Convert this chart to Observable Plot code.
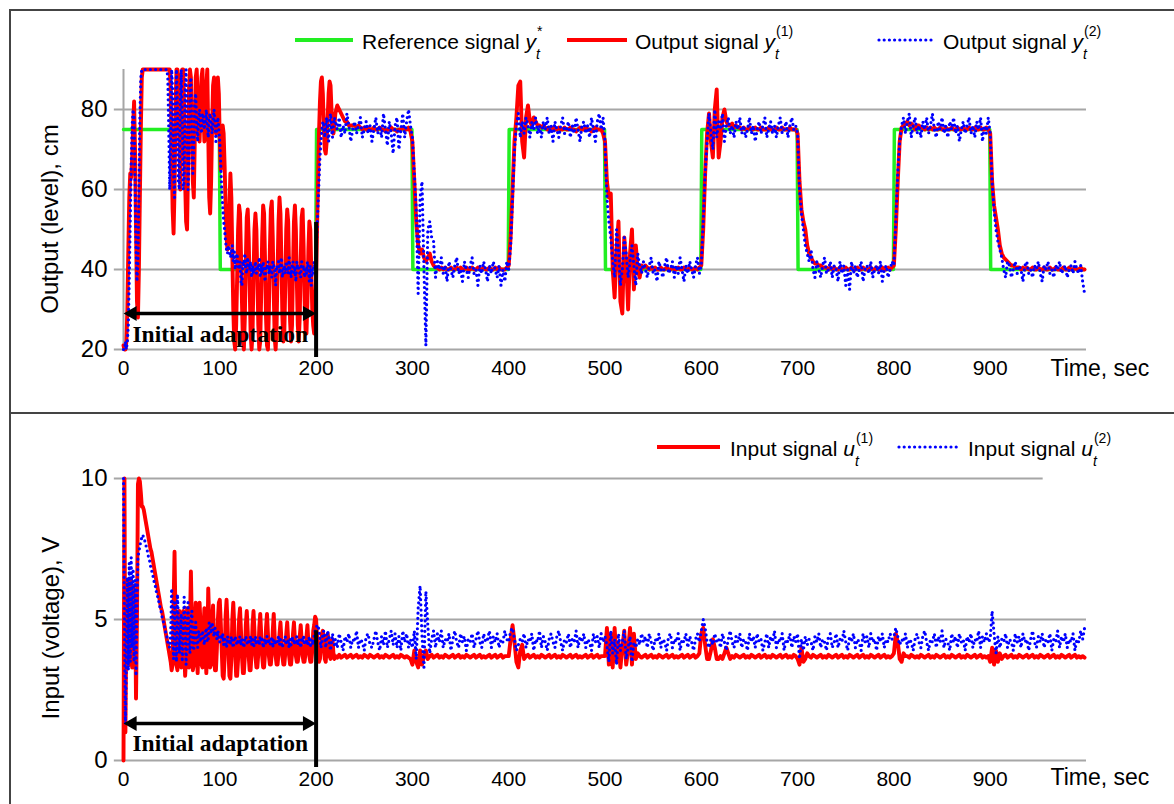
<!DOCTYPE html>
<html>
<head>
<meta charset="utf-8">
<script src="https://cdn.jsdelivr.net/npm/d3@7"></script>
<script src="https://cdn.jsdelivr.net/npm/@observablehq/plot@0.6"></script>
<style>
  body { margin: 0; background: #fff; }
  #fig { position: relative; width: 1174px; height: 804px; background: #fff; overflow: hidden;
         font-family: "Liberation Sans", Arial, sans-serif; color: #000; }
  .abs { position: absolute; }
  .bar { position: absolute; background: #444; }
  .lt { position: absolute; font-size: 21px; line-height: 24px; white-space: nowrap; }
  .m { white-space: nowrap; }
  .ss { position: relative; display: inline-block; width: 20px; height: 1px; }
  .sp { position: absolute; left: 1px; top: -25px; font-size: 14px; line-height: 16px; }
  .sb { position: absolute; left: 0px; top: -2px; font-size: 14px; line-height: 16px; font-style: italic; }
  .yt { position: absolute; font-size: 24px; white-space: nowrap; transform: translate(-50%, -50%) rotate(-90deg); }
</style>
</head>
<body>
<div id="fig">
  <div class="bar" style="left:9px;top:9px;width:1165px;height:2px"></div>
  <div class="bar" style="left:9px;top:9px;width:2px;height:795px"></div>
  <div class="bar" style="left:9px;top:412px;width:1165px;height:2px"></div>
  <div id="topPanel" class="abs" style="left:0;top:0"></div>
  <div id="botPanel" class="abs" style="left:0;top:402px"></div>

  <!-- top legend -->
  <div class="abs" style="left:295px;top:38px;width:58px;height:4px;background:#22ee22"></div>
  <div class="lt" style="left:362px;top:30px">Reference signal <span class="m"><i>y</i><span class="ss"><span class="sp">*</span><span class="sb">t</span></span></span></div>
  <div class="abs" style="left:567px;top:38px;width:60px;height:4px;background:#ff0000"></div>
  <div class="lt" style="left:635px;top:30px">Output signal <span class="m"><i>y</i><span class="ss"><span class="sp">(1)</span><span class="sb">t</span></span></span></div>
  <svg class="abs" style="left:876px;top:36px" width="62" height="8"><line x1="3" x2="59" y1="4" y2="4" stroke="#0000ff" stroke-width="3.2" stroke-dasharray="0 5.2" stroke-linecap="round"/></svg>
  <div class="lt" style="left:943px;top:30px">Output signal <span class="m"><i>y</i><span class="ss"><span class="sp">(2)</span><span class="sb">t</span></span></span></div>

  <!-- bottom legend -->
  <div class="abs" style="left:657px;top:445px;width:63px;height:4px;background:#ff0000"></div>
  <div class="lt" style="left:730px;top:437px">Input signal <span class="m"><i>u</i><span class="ss"><span class="sp">(1)</span><span class="sb">t</span></span></span></div>
  <svg class="abs" style="left:896px;top:443px" width="66" height="8"><line x1="3" x2="63" y1="4" y2="4" stroke="#0000ff" stroke-width="3.2" stroke-dasharray="0 5.2" stroke-linecap="round"/></svg>
  <div class="lt" style="left:968px;top:437px">Input signal <span class="m"><i>u</i><span class="ss"><span class="sp">(2)</span><span class="sb">t</span></span></span></div>

  <div class="yt" style="left:50px;top:219px">Output (level), cm</div>
  <div class="yt" style="left:51px;top:628px">Input (voltage), V</div>
</div>
<script>
// ---------- tick values ----------
const xTicks = [0, 100, 200, 300, 400, 500, 600, 700, 800, 900];
const yTicksTop = [20, 40, 60, 80];
const yTicksBot = [0, 5, 10];

// ---------- reference signal y* ----------
const refT = [0, 99.5, 100.5, 199.5, 200.5, 299.5, 300.5, 399.5, 400.5, 499.5, 500.5, 599.5, 600.5, 699.5, 700.5, 799.5, 800.5, 899.5, 900.5, 998];
const refV = [75, 75, 40, 40, 75, 75, 40, 40, 75, 75, 40, 40, 75, 75, 40, 40, 75, 75, 40, 40];

// ---------- output signal y(1), t = 0..219 step 1 ----------
const y1_000 = [
21,20,20,22,30,45,58,64,63,68,
76,82,70,50,32,28,40,58,75,88,
90,90,90,90,90,90,90,90,90,90,
90,90,90,90,90,90,90,90,90,90,
90,90,90,90,90,90,90,90,90,85,
70,55,49,60,80,90,90,88,72,60,
75,90,90,80,62,52,50,65,85,90,
88,75,62,58,72,88,90,84,74,72,
80,88,90,80,72,76,86,90,74,58,
54,62,76,86,88,80,74,82,88,84,
72,65,70,76,74,66,56,48,45,47,
56,64,58,44,30,22,20,26,38,50,
56,54,44,32,22,20,28,42,53,55,
48,36,24,20,24,38,50,54,50,38,
26,20,22,34,48,56,54,42,28,21,
20,30,45,55,57,48,34,23,20,26,
40,52,58,54,42,28,22,24,36,50,
55,52,40,27,22,26,40,52,56,50,
37,26,22,28,42,53,55,46,33,25,
24,32,45,52,50,40,30,26,24,30,
38,50,62,74,82,87,88,84,76,70,
69,72,78,84,87,86,80,75,74,76];
// step 2 segments
const y1_220 = [
79,81,80,79,78,77,77,76,76,76,
76,75.5,76,75.5,75,75.5,75,75.5,75,75,
75.5,75,75,75.5,75,75,74.5,75,75,75.5,
75,75,74.5,75,75,75.5,75,75,75.5,74.5];
const y1_300 = [
72,62,52,46,44,45,43,42,43,44,
42,41,40.5,40.5,40,40.5,40,40.5,40,40,
40.5,40,40,40.5,40,40.5,40,40,40.5,40,
40,40.5,40,40,40.5,40,40,40.5,40,40,
40.5,40,40,40.5,40,40.5,40,40,40,40.5];
const y1_400 = [
41,48,60,72,78,86,87,72,68,78,
81,77,76,78,77,76,76,75.5,76,75.5,
75,75.5,75,75.5,75,75,75.5,75,75,75.5,
75,75,75.5,75,75,74.5,75,75.5,75,75,
75.5,75,75,74.5,75,75.5,75,75,75,74];
const y1_500 = [
72,62,58,59,40,33,45,52,32,29,
48,42,30,44,50,35,46,40,38,41,
40.5,41,40.5,40,40.5,40,40.5,40,40,40.5,
40,40,40.5,40,40,40.5,40,40,40.5,40,
40,40.5,40,40,40.5,40,40,40.5,40,40.5];
const y1_600 = [
41,50,64,74,79,72,68,80,85,68,
72,78,80,77,76,76,76.5,75.5,76,75.5,
75.5,75,75.5,75,75,75.5,75,75,75.5,75,
75,75.5,75,75,75,75.5,75,75,75,75.5,
75,75,75.5,75,75,75,75.5,75,75,75];
const y1_700 = [
74,62,55,52,50,46,44,43,42,41.5,
41.5,41,41,40.5,40.5,40.5,40,40.5,40,40.5,
40,40,40.5,40,40,40.5,40,40,40.5,40,
40,40.5,40,40,40.5,40,40,40,40.5,40,
40,40.5,40,40,40.5,40,40,40.5,40,40.5];
const y1_800 = [
41,50,62,72,75.5,76,76.5,77,76,76.5,
76,75,76,76,75.5,75.5,75,75.5,75,75.5,
75,75.5,75,75,75.5,75,75,75.5,75,75,
75.5,75,75,75.5,75,75,75.5,75,75,75.5,
75,75,75.5,75,75,75.5,75,75,75.5,75];
const y1_900 = [
74,62,56,53,50,46,44,43,42.5,42,
41.5,41,41,40.5,40.5,40.5,40,40.5,40,40.5,
40,40,40.5,40,40,40.5,40,40,40.5,40,
40,40.5,40,40,40.5,40,40,40,40.5,40,
40,40.5,40,40,40.5,40,40,40.5,40,40];

// ---------- output signal y(2), t = 0..219 step 1 ----------
const y2_000 = [
20,20,22,20,22,26,38,52,66,76,
80,78,62,46,37,42,60,78,88,90,
90,90,90,90,90,90,90,90,90,90,
90,90,90,90,90,90,90,90,90,90,
90,90,90,90,90,90,88,75,60,72,
90,85,64,58,78,90,80,62,60,82,
90,78,60,62,84,90,76,60,66,86,
88,74,64,70,82,84,76,72,78,80,
76,74,79,78,75,77,80,76,73,78,
79,76,74,77,80,77,72,76,78,75,
72,66,60,56,52,50,47,45,44,46,
45,43,44,46,42,45,40,43,44,41,
40,42,37,36,42,41,44,40,39,43,
41,40,42,38,41,39,40,42,39,41,
40,43,38,41,39,42,40,37,41,40,
42,39,41,40,38,42,41,40,36,41,
40,42,39,41,43,38,40,41,39,42,
41,39,43,40,38,41,42,39,40,37,
42,40,41,39,38,42,40,41,38,40,
39,42,40,37,41,36,40,39,42,40,
44,50,56,62,68,72,75,77,76,73,
76,78,74,72,77,79,75,73,76,78];
const y2_220 = [
77,75,78,73,76,74,79,76,72,75,
77,74,76,78,73,75,77,74,76,72,
75,78,74,76,73,79,75,71,77,74,
69,76,78,70,75,79,73,77,80,76];
const y2_300 = [
73,64,55,34,58,62,40,21,50,52,
48,47,38,42,40,43,39,41,37,42,
40,38,41,43,39,40,37,42,40,38,
41,43,39,40,36,41,39,42,40,37,
41,39,42,40,38,41,36,40,37,42];
const y2_400 = [
40,46,58,70,76,79,73,77,74,78,
76,73,77,75,78,74,76,73,77,75,
78,74,76,72,77,75,73,76,78,74,
75,77,73,76,74,78,75,72,76,77,
74,76,73,78,75,72,77,79,75,78];
const y2_500 = [
72,58,52,48,42,38,50,45,36,40,
48,44,38,42,46,41,36,44,41,39,
42,40,38,41,43,39,40,37,42,40,
38,41,43,39,40,42,38,41,39,43,
40,37,41,39,42,40,38,41,43,39];
const y2_600 = [
41,52,64,72,79,74,70,80,73,77,
75,79,72,76,78,74,76,73,77,75,
78,74,76,73,75,78,74,76,72,75,
77,74,76,78,73,75,77,74,76,73,
76,78,74,75,77,73,76,78,75,76];
const y2_700 = [
74,60,54,50,46,44,42,45,40,38,
42,40,38,41,43,39,40,42,38,41,
40,37,42,39,41,36,40,35,42,39,
41,38,40,42,37,40,41,39,42,38,
40,41,39,42,37,40,41,38,40,42];
const y2_800 = [
41,52,64,72,76,78,74,77,79,73,
76,78,74,76,73,77,75,78,74,76,
79,75,73,77,75,78,74,76,73,77,
75,78,74,76,72,75,77,74,76,78,
74,76,73,77,75,78,72,76,74,78];
const y2_900 = [
74,62,55,50,47,45,43,40,38,42,
41,38,40,42,39,41,40,37,41,42,
39,40,38,41,40,42,39,37,41,40,
42,39,40,38,41,40,42,39,40,41,
38,40,41,39,42,40,39,41,37,34];

// ---------- input signal u(1), t = 0..219 step 1 ----------
const u1_000 = [
0,10,1,5,6.4,3.5,6.3,3.4,6.4,3.3,
6.2,3.3,5.8,2.2,5.0,9.8,10,9.9,9.5,9.0,
9.0,8.9,8.7,8.5,8.3,8.1,7.9,7.7,7.5,7.4,
7.2,7.0,6.8,6.6,6.4,6.2,6.0,5.8,5.6,5.4,
5.3,5.1,4.9,4.7,4.5,4.3,4.1,3.9,3.7,3.5,
3.2,3.4,5.5,7.4,5.0,3.4,3.2,4.5,5.3,4.2,
3.3,3.6,5.3,4.0,3.0,3.6,5.4,4.5,3.3,4.8,
6.7,4.8,3.2,3.4,5.0,5.6,4.0,3.1,4.2,5.6,
4.8,3.4,3.3,4.6,5.4,4.1,3.1,4.0,6.1,5.0,
3.3,3.4,4.8,5.5,4.2,3.2,3.2,4.0,5.0,5.6,
5.7,4.9,3.9,3.0,2.9,3.6,5.1,5.7,4.9,3.9,
3.0,2.9,3.6,5.0,5.6,4.8,3.8,3.0,3.0,3.6,
5.0,5.4,4.6,3.7,3.1,3.1,3.7,4.8,5.3,4.6,
3.7,3.2,3.2,3.8,4.8,5.3,4.6,3.7,3.3,3.3,
3.8,4.7,5.2,4.5,3.7,3.3,3.3,3.8,4.7,5.2,
4.5,3.7,3.4,3.4,3.8,4.6,5.2,4.4,3.7,3.4,
3.4,3.8,4.5,4.9,4.3,3.7,3.4,3.4,3.8,4.5,
4.9,4.3,3.7,3.4,3.4,3.8,4.5,4.9,4.3,3.7,
3.5,3.5,3.8,4.4,4.8,4.3,3.7,3.5,3.5,3.8,
4.4,4.8,4.2,3.7,3.5,3.5,3.9,4.6,4.8,5.1,
5.0,4.4,3.8,3.5,3.6,4.0,4.5,4.6,4.2,3.6,
3.5,4.0,4.5,4.3,3.7,3.6,4.2,4.3,3.8,3.6];
const u1_220 = [
3.7,3.65,3.75,3.65,3.7,3.75,3.65,3.7,3.75,3.65,
3.7,3.75,3.65,3.7,3.65,3.75,3.7,3.65,3.75,3.7,
3.65,3.7,3.75,3.65,3.7,3.65,3.75,3.7,3.65,3.7,
3.75,3.65,3.7,3.65,3.75,3.7,3.65,3.7,3.65,3.6];
const u1_300 = [
3.4,3.9,3.5,3.3,3.9,3.4,3.7,3.9,3.6,3.7,
3.75,3.65,3.7,3.75,3.65,3.7,3.65,3.75,3.7,3.65,
3.7,3.75,3.65,3.7,3.75,3.65,3.7,3.65,3.75,3.7,
3.65,3.7,3.75,3.65,3.7,3.75,3.65,3.7,3.65,3.7,
3.75,3.65,3.7,3.75,3.65,3.7,3.75,3.65,3.7,3.7];
const u1_400 = [
3.7,4.3,4.8,4.2,3.5,3.3,3.9,4.1,3.6,3.7,
3.75,3.65,3.7,3.75,3.65,3.7,3.65,3.75,3.7,3.65,
3.7,3.75,3.65,3.7,3.75,3.65,3.7,3.65,3.75,3.7,
3.65,3.7,3.75,3.65,3.7,3.75,3.65,3.7,3.65,3.7,
3.75,3.65,3.7,3.75,3.65,3.7,3.75,3.65,3.7,3.7];
const u1_500 = [
3.7,4.7,3.4,4.5,3.3,4.7,3.5,4.2,3.3,4.0,
4.6,3.4,3.9,4.7,3.4,4.5,3.6,3.8,3.7,3.65,
3.7,3.75,3.65,3.7,3.75,3.65,3.7,3.65,3.75,3.7,
3.65,3.7,3.75,3.65,3.7,3.75,3.65,3.7,3.65,3.7,
3.75,3.65,3.7,3.75,3.65,3.7,3.75,3.65,3.7,3.8];
const u1_600 = [
4.5,4.7,4.1,3.6,3.6,3.9,4.3,4.0,3.6,3.6,
3.7,3.6,3.8,4.0,3.8,3.6,3.7,3.65,3.75,3.7,
3.65,3.7,3.75,3.65,3.7,3.65,3.75,3.7,3.65,3.7,
3.75,3.65,3.7,3.75,3.65,3.7,3.65,3.75,3.7,3.65,
3.7,3.75,3.65,3.7,3.75,3.65,3.7,3.65,3.75,3.7];
const u1_700 = [
3.6,3.4,4.0,3.5,3.6,3.8,3.7,3.65,3.75,3.7,
3.65,3.7,3.75,3.65,3.7,3.65,3.75,3.7,3.65,3.7,
3.75,3.65,3.7,3.75,3.65,3.7,3.65,3.75,3.7,3.65,
3.7,3.75,3.65,3.7,3.75,3.65,3.7,3.65,3.75,3.7,
3.65,3.7,3.75,3.65,3.7,3.75,3.65,3.7,3.65,3.7];
const u1_800 = [
3.8,4.5,4.2,3.6,3.5,3.8,3.7,3.7,3.65,3.75,
3.7,3.65,3.7,3.65,3.75,3.7,3.65,3.7,3.75,3.65,
3.7,3.65,3.75,3.7,3.65,3.7,3.75,3.65,3.7,3.65,
3.75,3.7,3.65,3.7,3.75,3.65,3.7,3.65,3.75,3.7,
3.65,3.7,3.75,3.65,3.7,3.75,3.65,3.7,3.65,3.7];
const u1_900 = [
3.5,4.0,3.4,3.9,3.5,3.8,3.6,3.7,3.75,3.65,
3.7,3.75,3.65,3.7,3.65,3.75,3.7,3.65,3.7,3.75,
3.65,3.7,3.75,3.65,3.7,3.65,3.75,3.7,3.65,3.7,
3.75,3.65,3.7,3.75,3.65,3.7,3.65,3.75,3.7,3.65,
3.7,3.75,3.65,3.7,3.75,3.65,3.7,3.65,3.7,3.65];

// ---------- input signal u(2), t = 0..219 step 1 ----------
const u2_000 = [
10,5,1.3,3.5,6.5,3.2,7.0,3.5,7.2,4.0,
6.8,3.5,6.4,3.0,5.5,7.2,7.4,7.6,7.8,7.9,
8.0,7.9,7.8,7.7,7.5,7.4,7.2,7.1,6.9,6.8,
6.6,6.5,6.3,6.2,6.0,5.9,5.7,5.6,5.4,5.3,
5.1,5.0,4.8,4.7,4.5,4.4,4.2,4.1,4.0,4.5,
6.1,4.6,3.6,5.6,4.2,3.5,5.9,5.0,3.8,4.5,
5.2,3.5,4.3,5.8,4.8,3.4,4.6,5.6,4.2,3.8,
5.0,5.3,4.0,3.9,4.8,4.9,4.1,4.0,4.6,4.4,
4.2,4.4,4.6,4.3,4.1,4.5,4.7,4.2,4.3,4.9,
4.8,4.5,4.9,4.6,4.4,4.7,4.5,4.3,4.6,4.4,
4.2,4.4,4.3,4.5,4.1,4.3,4.2,4.0,4.4,4.2,
4.3,4.1,4.4,4.2,4.0,4.3,4.4,4.2,4.1,4.3,
4.2,4.4,4.1,4.3,4.2,4.0,4.3,4.4,4.2,4.1,
4.3,4.2,4.4,4.1,4.3,4.0,4.2,4.4,4.1,4.3,
4.2,4.1,4.4,4.2,4.3,4.0,4.2,4.3,4.1,4.4,
4.2,4.3,4.1,4.2,4.4,4.0,4.3,4.2,4.1,4.3,
4.2,4.4,4.1,4.3,4.2,4.0,4.2,4.3,4.4,4.1,
4.3,4.2,4.0,4.3,4.1,4.4,4.2,4.3,4.1,4.2,
4.4,4.1,4.3,4.2,4.0,4.3,4.2,4.4,4.1,4.2,
4.3,4.1,4.2,4.4,4.0,4.3,4.2,4.1,4.5,4.6,
4.7,4.8,4.8,4.6,4.3,4.0,4.2,4.5,4.6,4.4,
4.0,4.3,4.6,4.4,4.1,3.9,4.2,4.5,4.3,4.1];
const u2_220 = [
4.3,4.0,4.5,4.2,3.9,4.4,4.2,4.5,4.0,4.3,
4.2,4.6,4.0,4.3,4.2,3.9,4.4,4.5,4.1,4.0,
4.3,4.6,4.2,3.9,4.4,4.1,4.6,4.0,4.3,4.6,
4.1,4.5,4.0,4.4,3.9,4.6,4.2,4.5,4.0,4.3];
const u2_300 = [
4.0,4.6,3.6,5.4,6.2,4.4,3.3,6.0,4.8,3.8,
4.3,4.6,4.0,4.5,4.2,4.6,4.0,4.3,4.2,4.5,
3.9,4.3,4.6,4.2,4.0,4.5,4.2,4.4,3.9,4.3,
4.2,4.5,4.0,4.3,4.6,4.2,4.0,4.5,4.2,4.3,
4.6,4.0,4.4,4.2,4.5,4.0,4.3,4.2,4.6,4.3];
const u2_400 = [
4.2,4.6,4.7,4.3,3.9,4.1,4.3,4.2,4.5,4.0,
4.3,4.2,4.5,3.9,4.3,4.2,4.6,4.0,4.4,4.2,
3.9,4.3,4.5,4.2,4.0,4.4,4.6,4.2,3.9,4.3,
4.2,4.5,4.0,4.3,4.2,4.6,4.0,4.4,4.2,4.5,
4.0,4.3,4.2,3.9,4.5,4.2,4.4,4.0,4.5,4.2];
const u2_500 = [
4.4,4.1,3.5,4.6,3.8,4.3,3.4,4.5,3.9,4.2,
4.6,3.6,4.0,4.4,3.5,4.2,4.0,4.3,4.1,4.5,
4.2,4.4,4.0,4.5,4.2,3.9,4.3,4.2,4.5,4.0,
4.3,4.2,3.9,4.4,4.5,4.0,4.3,4.2,4.5,3.9,
4.3,4.2,4.5,4.0,4.4,4.2,3.9,4.3,4.5,4.2];
const u2_600 = [
4.6,5.0,4.7,4.2,4.0,4.3,4.1,4.5,4.2,4.3,
4.0,4.5,4.2,3.9,4.3,4.6,4.2,4.0,4.4,4.2,
4.5,4.0,4.3,4.2,3.9,4.5,4.2,4.4,4.0,4.5,
4.2,4.3,3.9,4.2,4.5,4.0,4.4,4.2,4.6,4.0,
4.3,4.2,4.5,3.9,4.3,4.2,4.5,4.0,4.4,4.2];
const u2_700 = [
4.5,3.6,4.3,3.9,4.4,4.1,4.3,4.2,3.9,4.4,
4.2,4.5,4.0,4.3,4.2,3.9,4.4,4.5,4.0,4.2,
4.5,4.0,4.3,4.2,4.6,4.2,3.9,4.4,4.2,4.5,
4.0,4.3,4.2,3.9,4.5,4.2,4.4,4.0,4.5,4.2,
4.3,3.9,4.4,4.2,4.5,4.0,4.3,4.2,4.5,4.3];
const u2_800 = [
4.4,4.7,4.4,4.1,4.3,4.2,4.5,4.0,4.3,4.2,
3.9,4.3,4.5,4.2,4.0,4.4,4.6,4.2,3.9,4.3,
4.2,4.5,4.0,4.4,4.2,4.6,4.0,4.3,4.2,3.9,
4.5,4.2,4.4,4.0,4.5,4.2,4.3,3.9,4.4,4.2,
4.5,4.0,4.3,4.2,4.6,4.0,4.4,4.2,4.5,4.2];
const u2_900 = [
4.3,5.3,4.5,3.8,4.4,4.0,4.3,4.2,4.5,4.0,
4.3,4.2,3.9,4.5,4.2,4.4,4.0,4.5,4.2,4.3,
3.9,4.3,4.6,4.2,4.0,4.4,4.2,4.5,4.0,4.3,
4.2,4.5,3.9,4.3,4.2,4.6,4.0,4.4,4.2,4.5,
4.0,4.3,4.2,4.5,3.9,4.3,4.2,4.6,4.3,4.7];

// ---------- build tables ----------
const seg = (t0, dt, vals) => vals.map((v, i) => ({t: t0 + i * dt, v}));
const late = (arrs) => arrs.flatMap(([t0, a]) => seg(t0, 2, a));
const ref = refT.map((t, i) => ({t, v: refV[i]}));
const y1 = [...seg(0, 1, y1_000), ...late([[220, y1_220], [300, y1_300], [400, y1_400], [500, y1_500], [600, y1_600], [700, y1_700], [800, y1_800], [900, y1_900]])];
const y2 = [...seg(0, 1, y2_000), ...late([[220, y2_220], [300, y2_300], [400, y2_400], [500, y2_500], [600, y2_600], [700, y2_700], [800, y2_800], [900, y2_900]])];
const u1 = [...seg(0, 1, u1_000), ...late([[220, u1_220], [300, u1_300], [400, u1_400], [500, u1_500], [600, u1_600], [700, u1_700], [800, u1_800], [900, u1_900]])];
const u2 = [...seg(0, 1, u2_000), ...late([[220, u2_220], [300, u2_300], [400, u2_400], [500, u2_500], [600, u2_600], [700, u2_700], [800, u2_800], [900, u2_900]])];

const GRID = "#a6a6a6";
const RED = "#ff0000";
const BLUE = "#0000ff";
const GREEN = "#22ee22";
const FONT = "Liberation Sans, Arial, sans-serif";
const SERIF = "Liberation Serif, Times New Roman, serif";

function annotation(yArrow, yText, yLine1, yLine2) {
  return [
    Plot.ruleY([yArrow], {x1: 6, x2: 194, stroke: "black", strokeWidth: 3.5}),
    Plot.dot([0], {x: d => d, y: yArrow, symbol: "triangle", r: 5.6, fill: "black", rotate: -90, dx: 8.8}),
    Plot.dot([200], {x: d => d, y: yArrow, symbol: "triangle", r: 5.6, fill: "black", rotate: 90, dx: -8.8}),
    Plot.ruleX([200], {y1: yLine1, y2: yLine2, stroke: "black", strokeWidth: 4}),
    Plot.text(["Initial adaptation"], {x: 100.5, y: yText, text: d => d, fontFamily: SERIF, fontWeight: "bold", fontSize: 23.5, fill: "black"})
  ];
}

const common = {
  width: 1174, height: 402, marginLeft: 123, marginRight: 88,
  style: {fontFamily: FONT, background: "transparent", color: "#000", overflow: "visible"},
  x: {domain: [0, 1000]}
};

const topChart = Plot.plot({
  ...common,
  marginTop: 69, marginBottom: 53,
  y: {domain: [20, 90]},
  marks: [
    Plot.ruleY(yTicksTop, {x1: -9.5, x2: 1000, stroke: GRID, strokeWidth: 2}),
    Plot.ruleX([0], {y1: 20, y2: 90, stroke: GRID, strokeWidth: 2}),
    Plot.axisY(yTicksTop, {tickSize: 0, tickPadding: 16, fontSize: 24, label: null}),
    Plot.axisX(xTicks, {tickSize: 0, tickPadding: 11, fontSize: 21, label: null}),
    Plot.text(["Time, sec"], {frameAnchor: "bottom-right", text: d => d, textAnchor: "start", dx: -36, dy: 26, fontSize: 23}),
    Plot.line(ref, {x: "t", y: "v", stroke: GREEN, strokeWidth: 3.5}),
    Plot.line(y1, {x: "t", y: "v", stroke: RED, strokeWidth: 3.9}),
    Plot.line(y2, {x: "t", y: "v", stroke: BLUE, strokeWidth: 3.2, strokeDasharray: "0 5.2", strokeLinecap: "round"}),
    ...annotation(29, 23.7, 18, 51.75)
  ]
});
document.getElementById("topPanel").appendChild(topChart);

const botChart = Plot.plot({
  ...common,
  marginTop: 76, marginBottom: 44,
  y: {domain: [0, 10]},
  marks: [
    Plot.ruleY([0, 5], {x1: -9.5, x2: 1000, stroke: GRID, strokeWidth: 2}),
    Plot.ruleY([10], {x1: -9.5, x2: 955, stroke: GRID, strokeWidth: 2}),
    Plot.ruleX([0], {y1: 0, y2: 10, stroke: GRID, strokeWidth: 2}),
    Plot.axisY(yTicksBot, {tickSize: 0, tickPadding: 16, fontSize: 24, label: null}),
    Plot.axisX(xTicks, {tickSize: 0, tickPadding: 11, fontSize: 21, label: null}),
    Plot.text(["Time, sec"], {frameAnchor: "bottom-right", text: d => d, textAnchor: "start", dx: -36, dy: 24, fontSize: 23}),
    Plot.line(u1, {x: "t", y: "v", stroke: RED, strokeWidth: 3.9}),
    Plot.line(u2, {x: "t", y: "v", stroke: BLUE, strokeWidth: 3.2, strokeDasharray: "0 5.2", strokeLinecap: "round"}),
    ...annotation(1.31, 0.62, -0.25, 4.6)
  ]
});
document.getElementById("botPanel").appendChild(botChart);
</script>
</body>
</html>
